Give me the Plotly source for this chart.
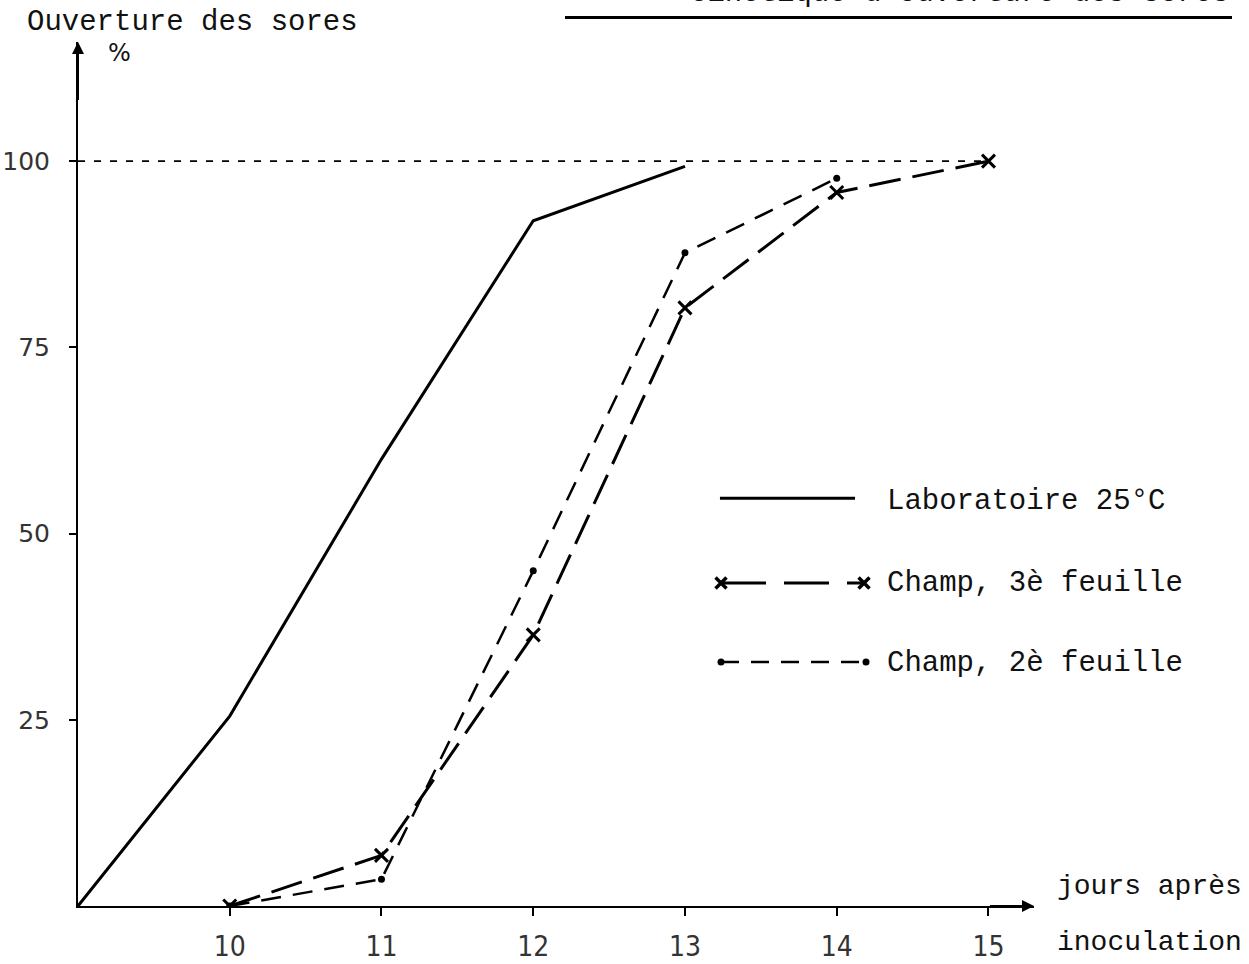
import plotly.graph_objects as go

# ---- data ----
days_lab = [9, 10, 11, 12, 13]
open_lab = [0, 25.5, 60, 92, 99.3]

days_f3 = [10, 11, 12, 13, 14, 15]
open_f3 = [0, 6.8, 36.4, 80.3, 95.8, 100]

days_f2 = [10, 11, 12, 13, 14]
open_f2 = [0, 3.6, 45, 87.7, 97.7]

x_ticks = [10, 11, 12, 13, 14, 15]
y_ticks = [25, 50, 75, 100]

name_lab = "Laboratoire 25°C"
name_f3 = "Champ, 3è feuille"
name_f2 = "Champ, 2è feuille"

MONO = "Liberation Mono, Courier New, monospace"
SANS = "DejaVu Sans, Open Sans, sans-serif"
NARROW = "Liberation Sans Narrow, DejaVu Sans Condensed, Liberation Sans, sans-serif"

fig = go.Figure()

fig.add_trace(go.Scatter(x=days_lab, y=open_lab, mode="lines",
                         line=dict(color="black", width=3), showlegend=False))
fig.add_trace(go.Scatter(x=days_f3, y=open_f3, mode="lines+markers",
                         line=dict(color="black", width=3, dash="32px,12px"),
                         marker=dict(symbol="x-thin", size=13, line=dict(color="black", width=3)),
                         showlegend=False))
fig.add_trace(go.Scatter(x=days_f2, y=open_f2, mode="lines+markers",
                         line=dict(color="black", width=2.5, dash="20px,12px"),
                         marker=dict(symbol="circle", size=7, color="black"),
                         showlegend=False))

# ---- hand-made legend on an overlay axis (0..1 of the plot area) ----
fig.add_trace(go.Scatter(x=[0.6715, 0.8128], y=[0.472, 0.472], mode="lines",
                         line=dict(color="black", width=3), xaxis="x2", yaxis="y2",
                         showlegend=False, hoverinfo="skip"))
fig.add_trace(go.Scatter(x=[0.6726, 0.8222], y=[0.3738, 0.3738], mode="lines+markers",
                         line=dict(color="black", width=3, dash="45px,18px"),
                         marker=dict(symbol="x-thin", size=11, line=dict(color="black", width=3.5)),
                         xaxis="x2", yaxis="y2", showlegend=False, hoverinfo="skip"))
fig.add_trace(go.Scatter(x=[0.6726, 0.8243], y=[0.2824, 0.2824], mode="lines+markers",
                         line=dict(color="black", width=2.5, dash="18px,12px"),
                         marker=dict(symbol="circle", size=7, color="black"),
                         xaxis="x2", yaxis="y2", showlegend=False, hoverinfo="skip"))

for txt, yy in [(name_lab, 0.4676), (name_f3, 0.3738), (name_f2, 0.2812)]:
    fig.add_annotation(text=txt, xref="paper", yref="paper", x=0.844, y=yy,
                       xanchor="left", yanchor="middle", showarrow=False,
                       font=dict(family=MONO, size=29, color="#111"))

# reference line at 100 %
fig.add_shape(type="line", xref="x", yref="y", x0=9, x1=15, y0=100, y1=100,
              line=dict(color="black", width=1.6, dash="7px,9px"))

# axis arrows
fig.add_annotation(x=9, y=116, ax=9, ay=108, xref="x", yref="y", axref="x", ayref="y",
                   showarrow=True, arrowhead=2, arrowsize=1.2, arrowwidth=2, arrowcolor="black", text="")
fig.add_annotation(x=15.3, y=0, ax=15.0, ay=0, xref="x", yref="y", axref="x", ayref="y",
                   showarrow=True, arrowhead=2, arrowsize=1.2, arrowwidth=2, arrowcolor="black", text="")

# axis titles
fig.add_annotation(text="Ouverture des sores", xref="paper", yref="paper", x=-0.0554, y=1.0231,
                   xanchor="left", yanchor="middle", showarrow=False,
                   font=dict(family=MONO, size=29, color="#111"))
fig.add_annotation(text="%", xref="paper", yref="paper", x=0.0429, y=0.9873,
                   xanchor="center", yanchor="middle", showarrow=False,
                   font=dict(family=SANS, size=24, color="#111"))
fig.add_annotation(text="jours après", xref="paper", yref="paper", x=1.022, y=0.0231,
                   xanchor="left", yanchor="middle", showarrow=False,
                   font=dict(family=MONO, size=28, color="#111"))
fig.add_annotation(text="inoculation", xref="paper", yref="paper", x=1.022, y=-0.0428,
                   xanchor="left", yanchor="middle", showarrow=False,
                   font=dict(family=MONO, size=28, color="#111"))

# clipped, underlined heading at the very top (cut off in the reference too)
fig.add_annotation(text="Cinétique d'ouverture des sores", xref="paper", yref="paper",
                   x=1.2071, y=1.0345, xanchor="right", yanchor="bottom", showarrow=False,
                   font=dict(family=MONO, size=29, color="#111"))
fig.add_shape(type="line", xref="paper", yref="paper", x0=0.5094, x1=1.2071, y0=1.0285, y1=1.0285,
              line=dict(color="black", width=3))

fig.update_layout(
    width=1249, height=964, autosize=False,
    margin=dict(l=78, r=215, t=42, b=58, pad=0, autoexpand=False),
    paper_bgcolor="white", plot_bgcolor="white",
    showlegend=False,
    xaxis=dict(range=[9, 15.3], tickvals=x_ticks, ticktext=[str(v) for v in x_ticks],
               showgrid=False, zeroline=False, showline=True, linecolor="black", linewidth=2,
               ticks="outside", ticklen=8, tickwidth=2, tickcolor="black", automargin=False,
               tickfont=dict(family=NARROW, size=28, color="#333"), ticklabelstandoff=6),
    yaxis=dict(range=[0, 116], tickvals=y_ticks, ticktext=[str(v) for v in y_ticks],
               showgrid=False, zeroline=False, showline=True, linecolor="black", linewidth=2,
               ticks="outside", ticklen=7, tickwidth=2, tickcolor="black", automargin=False,
               tickfont=dict(family=SANS, size=25, color="#333"), ticklabelstandoff=14),
    xaxis2=dict(range=[0, 1], overlaying="x", visible=False, fixedrange=True),
    yaxis2=dict(range=[0, 1], overlaying="y", visible=False, fixedrange=True),
)

fig.write_html("out.html")
